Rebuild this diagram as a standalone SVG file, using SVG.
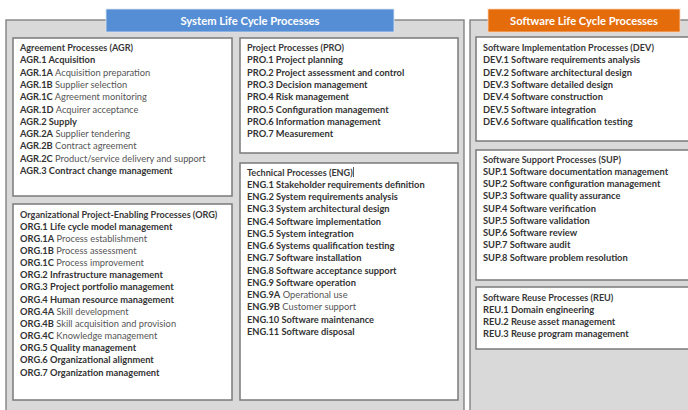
<svg xmlns="http://www.w3.org/2000/svg" width="688" height="410" viewBox="0 0 688 410">
  <style>
    .frame { fill: #d9d9d9; stroke: #7a7a7a; stroke-width: 1.3; }
    .box { fill: #ffffff; stroke: #7a7a7a; stroke-width: 1.5; }
    .hdr-text { font-family: Lato, "Open Sans", sans-serif; font-size: 11.2px; font-weight: bold; fill: #ffffff; text-anchor: middle; }
    text { font-family: Lato, "Liberation Sans", sans-serif; font-size: 9.3px; }
    .t { font-weight: bold; fill: #383838; font-size: 9.1px; }
    .b { font-weight: bold; fill: #333333; }
    .n { font-weight: normal; fill: #555555; }
  </style>

  <!-- background -->
  <rect x="0" y="0" width="688" height="410" fill="#ffffff"/>

  <!-- System life cycle frame -->
  <g id="system-frame">
    <rect class="frame" x="6" y="20" width="458" height="400"/>
    <rect x="106" y="9" width="288" height="23" fill="#558ed5" stroke="#dce6f2" stroke-width="0.8"/>
    <text class="hdr-text" x="250" y="24.5">System Life Cycle Processes</text>
  </g>

  <!-- Software life cycle frame -->
  <g id="software-frame">
    <rect class="frame" x="470" y="20" width="230" height="400"/>
    <rect x="488" y="9" width="192" height="23" fill="#e46c0a" stroke="#fbd5b5" stroke-width="0.8"/>
    <text class="hdr-text" x="584" y="24.5">Software Life Cycle Processes</text>
  </g>

  <!-- Agreement processes -->
  <g id="agr">
    <rect class="box" x="13" y="38" width="219" height="158"/>
    <text x="20" y="51" class="t">Agreement Processes (AGR)</text>
    <text x="20" y="63.3"><tspan class="b">AGR.1 Acquisition</tspan></text>
    <text x="20" y="75.6"><tspan class="b">AGR.1A</tspan><tspan class="n"> Acquisition preparation</tspan></text>
    <text x="20" y="87.9"><tspan class="b">AGR.1B</tspan><tspan class="n"> Supplier selection</tspan></text>
    <text x="20" y="100.2"><tspan class="b">AGR.1C</tspan><tspan class="n"> Agreement monitoring</tspan></text>
    <text x="20" y="112.5"><tspan class="b">AGR.1D</tspan><tspan class="n"> Acquirer acceptance</tspan></text>
    <text x="20" y="124.8"><tspan class="b">AGR.2 Supply</tspan></text>
    <text x="20" y="137.1"><tspan class="b">AGR.2A</tspan><tspan class="n"> Supplier tendering</tspan></text>
    <text x="20" y="149.4"><tspan class="b">AGR.2B</tspan><tspan class="n"> Contract agreement</tspan></text>
    <text x="20" y="161.7"><tspan class="b">AGR.2C</tspan><tspan class="n"> Product/service delivery and support</tspan></text>
    <text x="20" y="174"><tspan class="b">AGR.3 Contract change management</tspan></text>
  </g>

  <!-- Organizational project-enabling processes -->
  <g id="org">
    <rect class="box" x="13" y="204" width="219" height="196"/>
    <text x="20" y="217.5" class="t">Organizational Project-Enabling Processes (ORG)</text>
    <text x="20" y="229.7"><tspan class="b">ORG.1 Life cycle model management</tspan></text>
    <text x="20" y="241.8"><tspan class="b">ORG.1A</tspan><tspan class="n"> Process establishment</tspan></text>
    <text x="20" y="254"><tspan class="b">ORG.1B</tspan><tspan class="n"> Process assessment</tspan></text>
    <text x="20" y="266.1"><tspan class="b">ORG.1C</tspan><tspan class="n"> Process improvement</tspan></text>
    <text x="20" y="278.3"><tspan class="b">ORG.2 Infrastructure management</tspan></text>
    <text x="20" y="290.4"><tspan class="b">ORG.3 Project portfolio management</tspan></text>
    <text x="20" y="302.6"><tspan class="b">ORG.4 Human resource management</tspan></text>
    <text x="20" y="314.7"><tspan class="b">ORG.4A</tspan><tspan class="n"> Skill development</tspan></text>
    <text x="20" y="326.9"><tspan class="b">ORG.4B</tspan><tspan class="n"> Skill acquisition and provision</tspan></text>
    <text x="20" y="339"><tspan class="b">ORG.4C</tspan><tspan class="n"> Knowledge management</tspan></text>
    <text x="20" y="351.2"><tspan class="b">ORG.5 Quality management</tspan></text>
    <text x="20" y="363.3"><tspan class="b">ORG.6 Organizational alignment</tspan></text>
    <text x="20" y="375.5"><tspan class="b">ORG.7 Organization management</tspan></text>
  </g>

  <!-- Project processes -->
  <g id="pro">
    <rect class="box" x="240" y="38" width="218" height="115"/>
    <text x="247" y="51" class="t">Project Processes (PRO)</text>
    <text x="247" y="63.3" class="b">PRO.1 Project planning</text>
    <text x="247" y="75.6" class="b">PRO.2 Project assessment and control</text>
    <text x="247" y="87.9" class="b">PRO.3 Decision management</text>
    <text x="247" y="100.2" class="b">PRO.4 Risk management</text>
    <text x="247" y="112.5" class="b">PRO.5 Configuration management</text>
    <text x="247" y="124.8" class="b">PRO.6 Information management</text>
    <text x="247" y="137.1" class="b">PRO.7 Measurement</text>
  </g>

  <!-- Technical processes -->
  <g id="eng">
    <rect class="box" x="240" y="163" width="218" height="237"/>
    <text x="247" y="175.5" class="t">Technical Processes (ENG)</text>
    <line x1="353.5" y1="167" x2="353.5" y2="177" stroke="#333333" stroke-width="0.8"/>
    <text x="247" y="187.8" class="b">ENG.1 Stakeholder requirements definition</text>
    <text x="247" y="200" class="b">ENG.2 System requirements analysis</text>
    <text x="247" y="212.3" class="b">ENG.3 System architectural design</text>
    <text x="247" y="224.5" class="b">ENG.4 Software implementation</text>
    <text x="247" y="236.8" class="b">ENG.5 System integration</text>
    <text x="247" y="249" class="b">ENG.6 Systems qualification testing</text>
    <text x="247" y="261.3" class="b">ENG.7 Software installation</text>
    <text x="247" y="273.5" class="b">ENG.8 Software acceptance support</text>
    <text x="247" y="285.8" class="b">ENG.9 Software operation</text>
    <text x="247" y="298"><tspan class="b">ENG.9A</tspan><tspan class="n"> Operational use</tspan></text>
    <text x="247" y="310.3"><tspan class="b">ENG.9B</tspan><tspan class="n"> Customer support</tspan></text>
    <text x="247" y="322.5" class="b">ENG.10 Software maintenance</text>
    <text x="247" y="334.8" class="b">ENG.11 Software disposal</text>
  </g>

  <!-- Software implementation processes -->
  <g id="dev">
    <rect class="box" x="476" y="37" width="230" height="104"/>
    <text x="483" y="51" class="t">Software Implementation Processes (DEV)</text>
    <text x="483" y="63.3" class="b">DEV.1 Software requirements analysis</text>
    <text x="483" y="75.6" class="b">DEV.2 Software architectural design</text>
    <text x="483" y="87.9" class="b">DEV.3 Software detailed design</text>
    <text x="483" y="100.2" class="b">DEV.4 Software construction</text>
    <text x="483" y="112.5" class="b">DEV.5 Software integration</text>
    <text x="483" y="124.8" class="b">DEV.6 Software qualification testing</text>
  </g>

  <!-- Software support processes -->
  <g id="sup">
    <rect class="box" x="476" y="150" width="230" height="130"/>
    <text x="483" y="162.5" class="t">Software Support Processes (SUP)</text>
    <text x="483" y="174.8" class="b">SUP.1 Software documentation management</text>
    <text x="483" y="187" class="b">SUP.2 Software configuration management</text>
    <text x="483" y="199.3" class="b">SUP.3 Software quality assurance</text>
    <text x="483" y="211.5" class="b">SUP.4 Software verification</text>
    <text x="483" y="223.8" class="b">SUP.5 Software validation</text>
    <text x="483" y="236" class="b">SUP.6 Software review</text>
    <text x="483" y="248.3" class="b">SUP.7 Software audit</text>
    <text x="483" y="260.5" class="b">SUP.8 Software problem resolution</text>
  </g>

  <!-- Software reuse processes -->
  <g id="reu">
    <rect class="box" x="476" y="287" width="230" height="62"/>
    <text x="483" y="300.5" class="t">Software Reuse Processes (REU)</text>
    <text x="483" y="312.8" class="b">REU.1 Domain engineering</text>
    <text x="483" y="325.1" class="b">REU.2 Reuse asset management</text>
    <text x="483" y="337.4" class="b">REU.3 Reuse program management</text>
  </g>

  <!-- no connectors in this figure -->
  <g id="connectors"/>
</svg>
